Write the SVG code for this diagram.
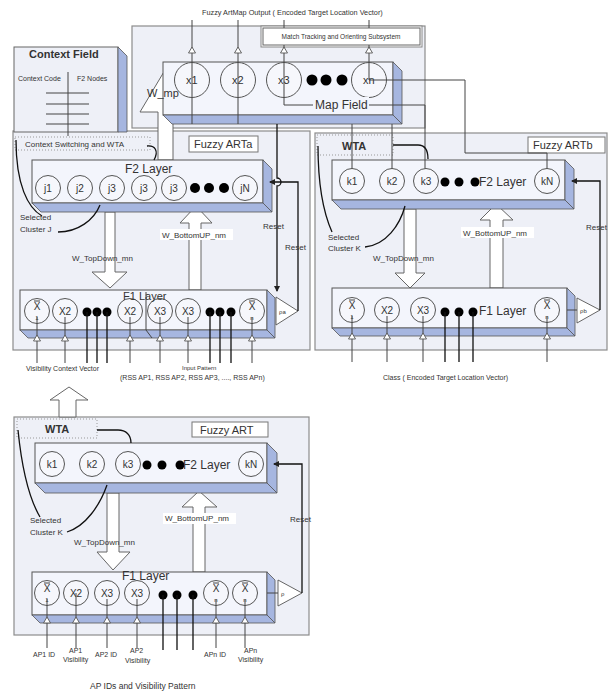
<svg xmlns="http://www.w3.org/2000/svg" width="616" height="691" viewBox="0 0 616 691">
<defs>
<style>
.panel{fill:#eef0f7;stroke:#8c8c8c;stroke-width:1.2}
.bar{fill:#f3f5fc;stroke:#555;stroke-width:1}
.side{fill:#a6b6e0;stroke:#555;stroke-width:0.8}
.node{fill:#f6f7fc;stroke:#555;stroke-width:1}
.dot{fill:#000}
.ln{stroke:#444;stroke-width:1;fill:none}
.dk{stroke:#111;stroke-width:1.3;fill:none}
.big{fill:#fff;stroke:#666;stroke-width:1}
.tri{fill:#fff;stroke:#555;stroke-width:0.9}
.lbl{fill:#fff;stroke:#777;stroke-width:1}
.dotted{fill:none;stroke:#999;stroke-width:1;stroke-dasharray:1 2}
text{font-family:"Liberation Sans",Arial,sans-serif;fill:#333}
.s7{font-size:7px}
.s8{font-size:8px}
.s11{font-size:11px}
.s12{font-size:12px}
.nd{font-size:10px;text-anchor:middle}
</style>
<marker id="ah" markerWidth="6" markerHeight="6" refX="5" refY="3" orient="auto" markerUnits="userSpaceOnUse">
<path d="M0,0 L6,3 L0,6 z" fill="#222"/>
</marker>
</defs>
<rect width="616" height="691" fill="#fff"/>

<g id="panels">
<rect class="panel" x="132" y="26" width="293" height="102"/>
<rect class="panel" x="13" y="131" width="297" height="219"/>
<rect class="panel" x="315" y="133" width="292" height="217"/>
<rect class="panel" x="14" y="417" width="295" height="218"/>
</g>

<g id="context-field">
<rect x="14" y="47" width="104" height="85" fill="#eef0f7" stroke="#666"/>
<polygon class="side" points="118,47 127,56 127,132 118,132"/>
<text x="29" y="58" font-size="11" font-weight="bold">Context Field</text>
<text class="s7" x="18" y="81">Context Code</text>
<text class="s7" x="77" y="81">F2 Nodes</text>
<path class="ln" d="M68,72 V136 M46,93 H89 M46,104 H89 M46,114 H89 M46,124 H89"/>
</g>

<g id="big-arrows">
<path class="big" d="M158,160 V112 H140 L165,70 L187,112 H173 V160 Z"/>
<path class="big" d="M105,212 V272 H92 L110,288 L127,272 H115 V212 Z"/>
<path class="big" d="M189,290 V223 H180 L196,206 L212,223 H201 V290 Z"/>
<path class="big" d="M404,209 V273 H395 L410,288 L425,273 H416 V209 Z"/>
<path class="big" d="M490,288 V220 H480 L496,204 L513,220 H503 V288 Z"/>
<path class="big" d="M107,493 V552 H97 L113,570 L130,552 H119 V493 Z"/>
<path class="big" d="M193,572 V507 H182 L199,491 L217,507 H205 V572 Z"/>
<path class="big" d="M59,417 V400 H50 L69,387 L88,400 H76 V417 Z"/>
</g>

<g id="match-tracking">
<rect x="261" y="26" width="161" height="21" fill="#fff" stroke="#888"/>
<rect x="263" y="28" width="157" height="17" fill="#fff" stroke="#666"/>
<text x="341" y="39" font-size="6.5" text-anchor="middle">Match Tracking and Orienting Subsystem</text>
</g>

<g id="map-field">
<rect class="bar" x="163" y="62" width="230" height="53"/>
<polygon class="side" points="393,62 402,71 402,124 393,115"/>
<polygon class="side" points="163,115 393,115 402,124 172,124"/>
<circle class="node" cx="192" cy="80" r="17.5"/>
<circle class="node" cx="238" cy="80" r="17.5"/>
<circle class="node" cx="284" cy="80" r="17.5"/>
<circle class="node" cx="369" cy="80" r="17.5"/>
<circle class="dot" cx="312" cy="80" r="5.5"/>
<circle class="dot" cx="326" cy="80" r="5.5"/>
<circle class="dot" cx="342" cy="80" r="5.5"/>
<text class="s11" x="186" y="84">x1</text>
<text class="s11" x="232" y="84">x2</text>
<text class="s11" x="278" y="84">x3</text>
<text class="s11" x="363" y="84">xn</text>
</g>

<g id="artA">
<rect class="dotted" x="15" y="137" width="135" height="13"/>
<text class="s8" x="25" y="147">Context Switching and WTA</text>
<rect class="lbl" x="189" y="136" width="69" height="16"/>
<text class="s11" x="194" y="148">Fuzzy ARTa</text>
</g>

<g id="artA-F2">
<rect class="bar" x="32" y="160" width="231" height="43"/>
<polygon class="side" points="263,160 272,169 272,212 263,203"/>
<polygon class="side" points="32,203 263,203 272,212 41,212"/>
<text class="s12" x="125" y="173">F2 Layer</text>
<circle class="node" cx="48" cy="188" r="12.5"/>
<circle class="node" cx="80" cy="188" r="12.5"/>
<circle class="node" cx="112" cy="188" r="12.5"/>
<circle class="node" cx="144" cy="188" r="12.5"/>
<circle class="node" cx="174" cy="188" r="12.5"/>
<circle class="node" cx="245" cy="188" r="12.5"/>
<circle class="dot" cx="195" cy="188" r="5"/>
<circle class="dot" cx="209" cy="188" r="5"/>
<circle class="dot" cx="224" cy="188" r="5"/>
<text class="nd" x="48" y="192">j1</text>
<text class="nd" x="80" y="192">j2</text>
<text class="nd" x="112" y="192">j3</text>
<text class="nd" x="144" y="192">j3</text>
<text class="nd" x="174" y="192">j3</text>
<text class="nd" x="245" y="192">jN</text>
</g>

<g id="artA-F1">
<rect class="bar" x="20" y="290" width="247" height="40"/>
<polygon class="side" points="267,290 275,298 275,338 267,330"/>
<polygon class="side" points="20,330 267,330 275,338 28,338"/>
<path class="ln" d="M146,292 V330 L152,338"/>
<circle class="node" cx="37" cy="311" r="12.5"/>
<circle class="node" cx="65" cy="311" r="12.5"/>
<circle class="node" cx="130" cy="311" r="12.5"/>
<circle class="node" cx="160" cy="311" r="12.5"/>
<circle class="node" cx="188" cy="311" r="12.5"/>
<circle class="node" cx="252" cy="311" r="12.5"/>
<circle class="dot" cx="87" cy="312" r="4.5"/>
<circle class="dot" cx="97" cy="312" r="4.5"/>
<circle class="dot" cx="107" cy="312" r="4.5"/>
<circle class="dot" cx="210" cy="312" r="4.5"/>
<circle class="dot" cx="220" cy="312" r="4.5"/>
<circle class="dot" cx="231" cy="312" r="4.5"/>
<text class="s11" x="123" y="300">F1 Layer</text>
<text class="nd" x="37" y="310">X</text><path class="ln" d="M34,301 H40"/><text x="37" y="320" font-size="6" text-anchor="middle">1</text>
<text class="nd" x="65" y="315">X2</text>
<text class="nd" x="130" y="315">X2</text>
<text class="nd" x="160" y="315">X3</text>
<text class="nd" x="188" y="315">X3</text>
<text class="nd" x="252" y="310">X</text><path class="ln" d="M249,301 H255"/><text x="252" y="320" font-size="6" text-anchor="middle">n</text>
</g>

<g id="artA-vigilance">
<polygon class="tri" points="276,297 276,325 298,311"/>
<text x="279" y="314" font-size="6">ρa</text>
</g>

<g id="artB">
<rect class="dotted" x="317" y="135" width="76" height="20"/>
<text x="342" y="150" font-size="11" font-weight="bold">WTA</text>
<rect class="lbl" x="528" y="137" width="77" height="16"/>
<text class="s11" x="533" y="149">Fuzzy ARTb</text>
</g>

<g id="artB-F2">
<rect class="bar" x="332" y="160" width="233" height="40"/>
<polygon class="side" points="565,160 574,169 574,209 565,200"/>
<polygon class="side" points="332,200 565,200 574,209 341,209"/>
<circle class="node" cx="352" cy="181" r="12.5"/>
<circle class="node" cx="392" cy="181" r="12.5"/>
<circle class="node" cx="426" cy="181" r="12.5"/>
<circle class="node" cx="547" cy="181" r="12.5"/>
<circle class="dot" cx="445" cy="182" r="4.5"/>
<circle class="dot" cx="459" cy="182" r="4.5"/>
<circle class="dot" cx="475" cy="182" r="4.5"/>
<text class="s12" x="479" y="186">F2 Layer</text>
<text class="nd" x="352" y="185">k1</text>
<text class="nd" x="392" y="185">k2</text>
<text class="nd" x="426" y="185">k3</text>
<text class="nd" x="547" y="185">kN</text>
</g>

<g id="artB-F1">
<rect class="bar" x="332" y="288" width="235" height="40"/>
<polygon class="side" points="567,288 575,296 575,336 567,328"/>
<polygon class="side" points="332,328 567,328 575,336 340,336"/>
<circle class="node" cx="352" cy="310" r="12.5"/>
<circle class="node" cx="387" cy="310" r="12.5"/>
<circle class="node" cx="423" cy="310" r="12.5"/>
<circle class="node" cx="547" cy="310" r="12.5"/>
<circle class="dot" cx="445" cy="312" r="4.5"/>
<circle class="dot" cx="459" cy="312" r="4.5"/>
<circle class="dot" cx="473" cy="312" r="4.5"/>
<text class="s12" x="479" y="315">F1 Layer</text>
<text class="nd" x="352" y="309">X</text><path class="ln" d="M349,300 H355"/><text x="352" y="319" font-size="6" text-anchor="middle">1</text>
<text class="nd" x="387" y="314">X2</text>
<text class="nd" x="423" y="314">X3</text>
<text class="nd" x="547" y="309">X</text><path class="ln" d="M544,300 H550"/><text x="547" y="319" font-size="6" text-anchor="middle">n</text>
</g>

<g id="artB-vigilance">
<polygon class="tri" points="577,298 577,323 600,310"/>
<text x="580" y="313" font-size="6">ρb</text>
</g>

<g id="art">
<rect class="dotted" x="17" y="419" width="80" height="19"/>
<text x="45" y="433" font-size="11" font-weight="bold">WTA</text>
<rect class="lbl" x="192" y="422" width="76" height="15"/>
<text class="s11" x="200" y="434">Fuzzy ART</text>
</g>

<g id="art-F2">
<rect class="bar" x="35" y="443" width="232" height="40"/>
<polygon class="side" points="267,443 277,453 277,493 267,483"/>
<polygon class="side" points="35,483 267,483 277,493 45,493"/>
<circle class="node" cx="52" cy="464" r="12.5"/>
<circle class="node" cx="92" cy="464" r="12.5"/>
<circle class="node" cx="128" cy="464" r="12.5"/>
<circle class="node" cx="251" cy="464" r="12.5"/>
<circle class="dot" cx="147" cy="465" r="4.5"/>
<circle class="dot" cx="162" cy="465" r="4.5"/>
<circle class="dot" cx="180" cy="465" r="4.5"/>
<text class="s12" x="183" y="469">F2 Layer</text>
<text class="nd" x="52" y="468">k1</text>
<text class="nd" x="92" y="468">k2</text>
<text class="nd" x="128" y="468">k3</text>
<text class="nd" x="251" y="468">kN</text>
</g>

<g id="art-F1">
<rect class="bar" x="32" y="572" width="235" height="43"/>
<polygon class="side" points="267,572 275,580 275,623 267,615"/>
<polygon class="side" points="32,615 267,615 275,623 40,623"/>
<circle class="node" cx="47" cy="593" r="12.5"/>
<circle class="node" cx="76" cy="593" r="12.5"/>
<circle class="node" cx="107" cy="593" r="12.5"/>
<circle class="node" cx="137" cy="593" r="12.5"/>
<circle class="node" cx="216" cy="593" r="12.5"/>
<circle class="node" cx="245" cy="593" r="12.5"/>
<circle class="dot" cx="163" cy="595" r="4.5"/>
<circle class="dot" cx="177" cy="595" r="4.5"/>
<circle class="dot" cx="193" cy="595" r="4.5"/>
<text class="s12" x="122" y="580">F1 Layer</text>
<text class="nd" x="47" y="592">X</text><path class="ln" d="M44,583 H50"/><text x="47" y="602" font-size="6" text-anchor="middle">1</text>
<text class="nd" x="76" y="597">X2</text>
<text class="nd" x="107" y="597">X3</text>
<text class="nd" x="137" y="597">X3</text>
<text class="nd" x="216" y="592">X</text><path class="ln" d="M213,583 H219"/><text x="216" y="602" font-size="6" text-anchor="middle">n</text>
<text class="nd" x="245" y="592">X</text><path class="ln" d="M242,583 H248"/><text x="245" y="602" font-size="6" text-anchor="middle">n</text>
</g>

<g id="art-vigilance">
<polygon class="tri" points="278,580 278,606 302,593"/>
<text x="281" y="596" font-size="6">ρ</text>
</g>

<g id="connectors">
<!-- map field outputs -->
<path class="ln" d="M192,20 V124 M238,20 V124"/>
<path class="ln" d="M284,20 V28 M284,45 V105 H425 V168.5"/>
<path class="ln" d="M369,20 V28 M369,45 V80 H465 V153 H547 V168.5"/>
<path class="ln" d="M352,168.5 V124 M392,168.5 V124"/>
<polygon class="tri" points="192,47 188.5,53 195.5,53"/>
<polygon class="tri" points="238,47 234.5,53 241.5,53"/>
<polygon class="tri" points="284,47 280.5,53 287.5,53"/>
<polygon class="tri" points="369,47 365.5,53 372.5,53"/>
<!-- ARTa resets -->
<path class="dk" d="M277,124 V178 a4,4 0 0 1 0,8 V291" marker-end="url(#ah)"/>
<path class="dk" d="M298,311 V182 H270" marker-end="url(#ah)"/>
<!-- ARTb reset -->
<path class="dk" d="M600,310 V181 H572" marker-end="url(#ah)"/>
<path class="ln" d="M567,310 H577"/>
<!-- ART reset -->
<path class="dk" d="M302,593 V464 H274" marker-end="url(#ah)"/>
<path class="ln" d="M267,593 H278"/>
<!-- WTA arcs -->
<path class="dk" d="M147,146 C155,145 159,151 154,160"/>
<path class="dk" d="M393,145 H418 C425,145 428,150 428,159"/>
<path class="dk" d="M97,430 H118 C126,430 131,435 131,443"/>
<!-- selected cluster curves -->
<path class="dk" d="M16,140 C16,185 28,208 42,216"/>
<path class="dk" d="M100,205 C94,220 78,232 58,232"/>
<path class="dk" d="M318,146 C318,190 324,214 332,232"/>
<path class="dk" d="M405,206 C400,225 386,245 365,247"/>
<path class="dk" d="M18,430 C22,470 30,500 40,517"/>
<path class="dk" d="M107,485 C100,505 86,526 67,532"/>
<!-- ARTa inputs -->
<path class="ln" d="M37,317 V363 M65,317 V363 M130,317 V363 M160,317 V363 M188,317 V363 M252,317 V363"/>
<path class="dk" d="M87,312 V363 M97,312 V363 M107,312 V363 M210,312 V363 M220,312 V363 M231,312 V363"/>
<polygon class="tri" points="37,335 33.5,341 40.5,341"/>
<polygon class="tri" points="65,335 61.5,341 68.5,341"/>
<polygon class="tri" points="130,335 126.5,341 133.5,341"/>
<polygon class="tri" points="160,335 156.5,341 163.5,341"/>
<polygon class="tri" points="188,335 184.5,341 191.5,341"/>
<polygon class="tri" points="252,335 248.5,341 255.5,341"/>
<!-- ARTb inputs -->
<path class="ln" d="M352,316 V362 M387,316 V362 M423,316 V362 M547,316 V362"/>
<path class="dk" d="M445,312 V362 M459,312 V362 M473,312 V362"/>
<polygon class="tri" points="352,333 348.5,339 355.5,339"/>
<polygon class="tri" points="387,333 383.5,339 390.5,339"/>
<polygon class="tri" points="423,333 419.5,339 426.5,339"/>
<polygon class="tri" points="547,333 543.5,339 550.5,339"/>
<!-- ART inputs -->
<path class="ln" d="M47,599 V648 M76,593 V648 M107,599 V648 M137,599 V648 M216,599 V648 M245,599 V648"/>
<path class="dk" d="M163,595 V650 M177,595 V650 M193,595 V650"/>
<polygon class="tri" points="47,617 43.5,623 50.5,623"/>
<polygon class="tri" points="76,617 72.5,623 79.5,623"/>
<polygon class="tri" points="107,617 103.5,623 110.5,623"/>
<polygon class="tri" points="137,617 133.5,623 140.5,623"/>
<polygon class="tri" points="216,617 212.5,623 219.5,623"/>
<polygon class="tri" points="245,617 241.5,623 248.5,623"/>
</g>

<g id="labels">
<rect x="313" y="97" width="56" height="13" fill="#f3f5fc"/>
<text class="s12" x="315" y="109">Map Field</text>
<text x="202" y="15" font-size="7.3">Fuzzy ArtMap Output ( Encoded Target Location Vector)</text>
<text x="147" y="97" font-size="11">W_mp</text>
<text class="s8" x="20" y="220">Selected</text>
<text class="s8" x="20" y="232">Cluster J</text>
<text class="s8" x="72" y="261">W_TopDown_mn</text>
<rect x="160" y="229" width="73" height="11" fill="#fff"/>
<text class="s8" x="162" y="238">W_BottomUP_nm</text>
<text class="s8" x="263" y="229">Reset</text>
<text class="s8" x="285" y="250">Reset</text>
<text class="s7" x="26" y="371">Visibility Context Vector</text>
<text x="182" y="370" font-size="6">Input Pattern</text>
<text class="s7" x="120" y="380">(RSS AP1, RSS AP2, RSS AP3, ...., RSS APn)</text>
<text class="s8" x="328" y="240">Selected</text>
<text class="s8" x="328" y="251">Cluster K</text>
<text class="s8" x="373" y="261">W_TopDown_mn</text>
<rect x="461" y="227" width="73" height="11" fill="#fff"/>
<text class="s8" x="463" y="236">W_BottomUP_nm</text>
<text class="s8" x="586" y="230">Reset</text>
<text class="s7" x="383" y="380">Class ( Encoded Target Location Vector)</text>
<text class="s8" x="30" y="523">Selected</text>
<text class="s8" x="30" y="535">Cluster K</text>
<text class="s8" x="74" y="545">W_TopDown_mn</text>
<rect x="163" y="513" width="73" height="11" fill="#fff"/>
<text class="s8" x="165" y="521">W_BottomUP_nm</text>
<text class="s8" x="290" y="522">Reset</text>
<text class="s7" x="33" y="657">AP1 ID</text>
<text class="s7" x="69" y="653">AP1</text>
<text class="s7" x="63" y="662">Visibility</text>
<text class="s7" x="95" y="657">AP2 ID</text>
<text class="s7" x="130" y="653">AP2</text>
<text class="s7" x="125" y="663">Visibility</text>
<text class="s7" x="204" y="657">APn ID</text>
<text class="s7" x="244" y="653">APn</text>
<text class="s7" x="238" y="662">Visibility</text>
<text x="90" y="689" font-size="8.5">AP IDs and Visibility Pattern</text>
</g>
</svg>
